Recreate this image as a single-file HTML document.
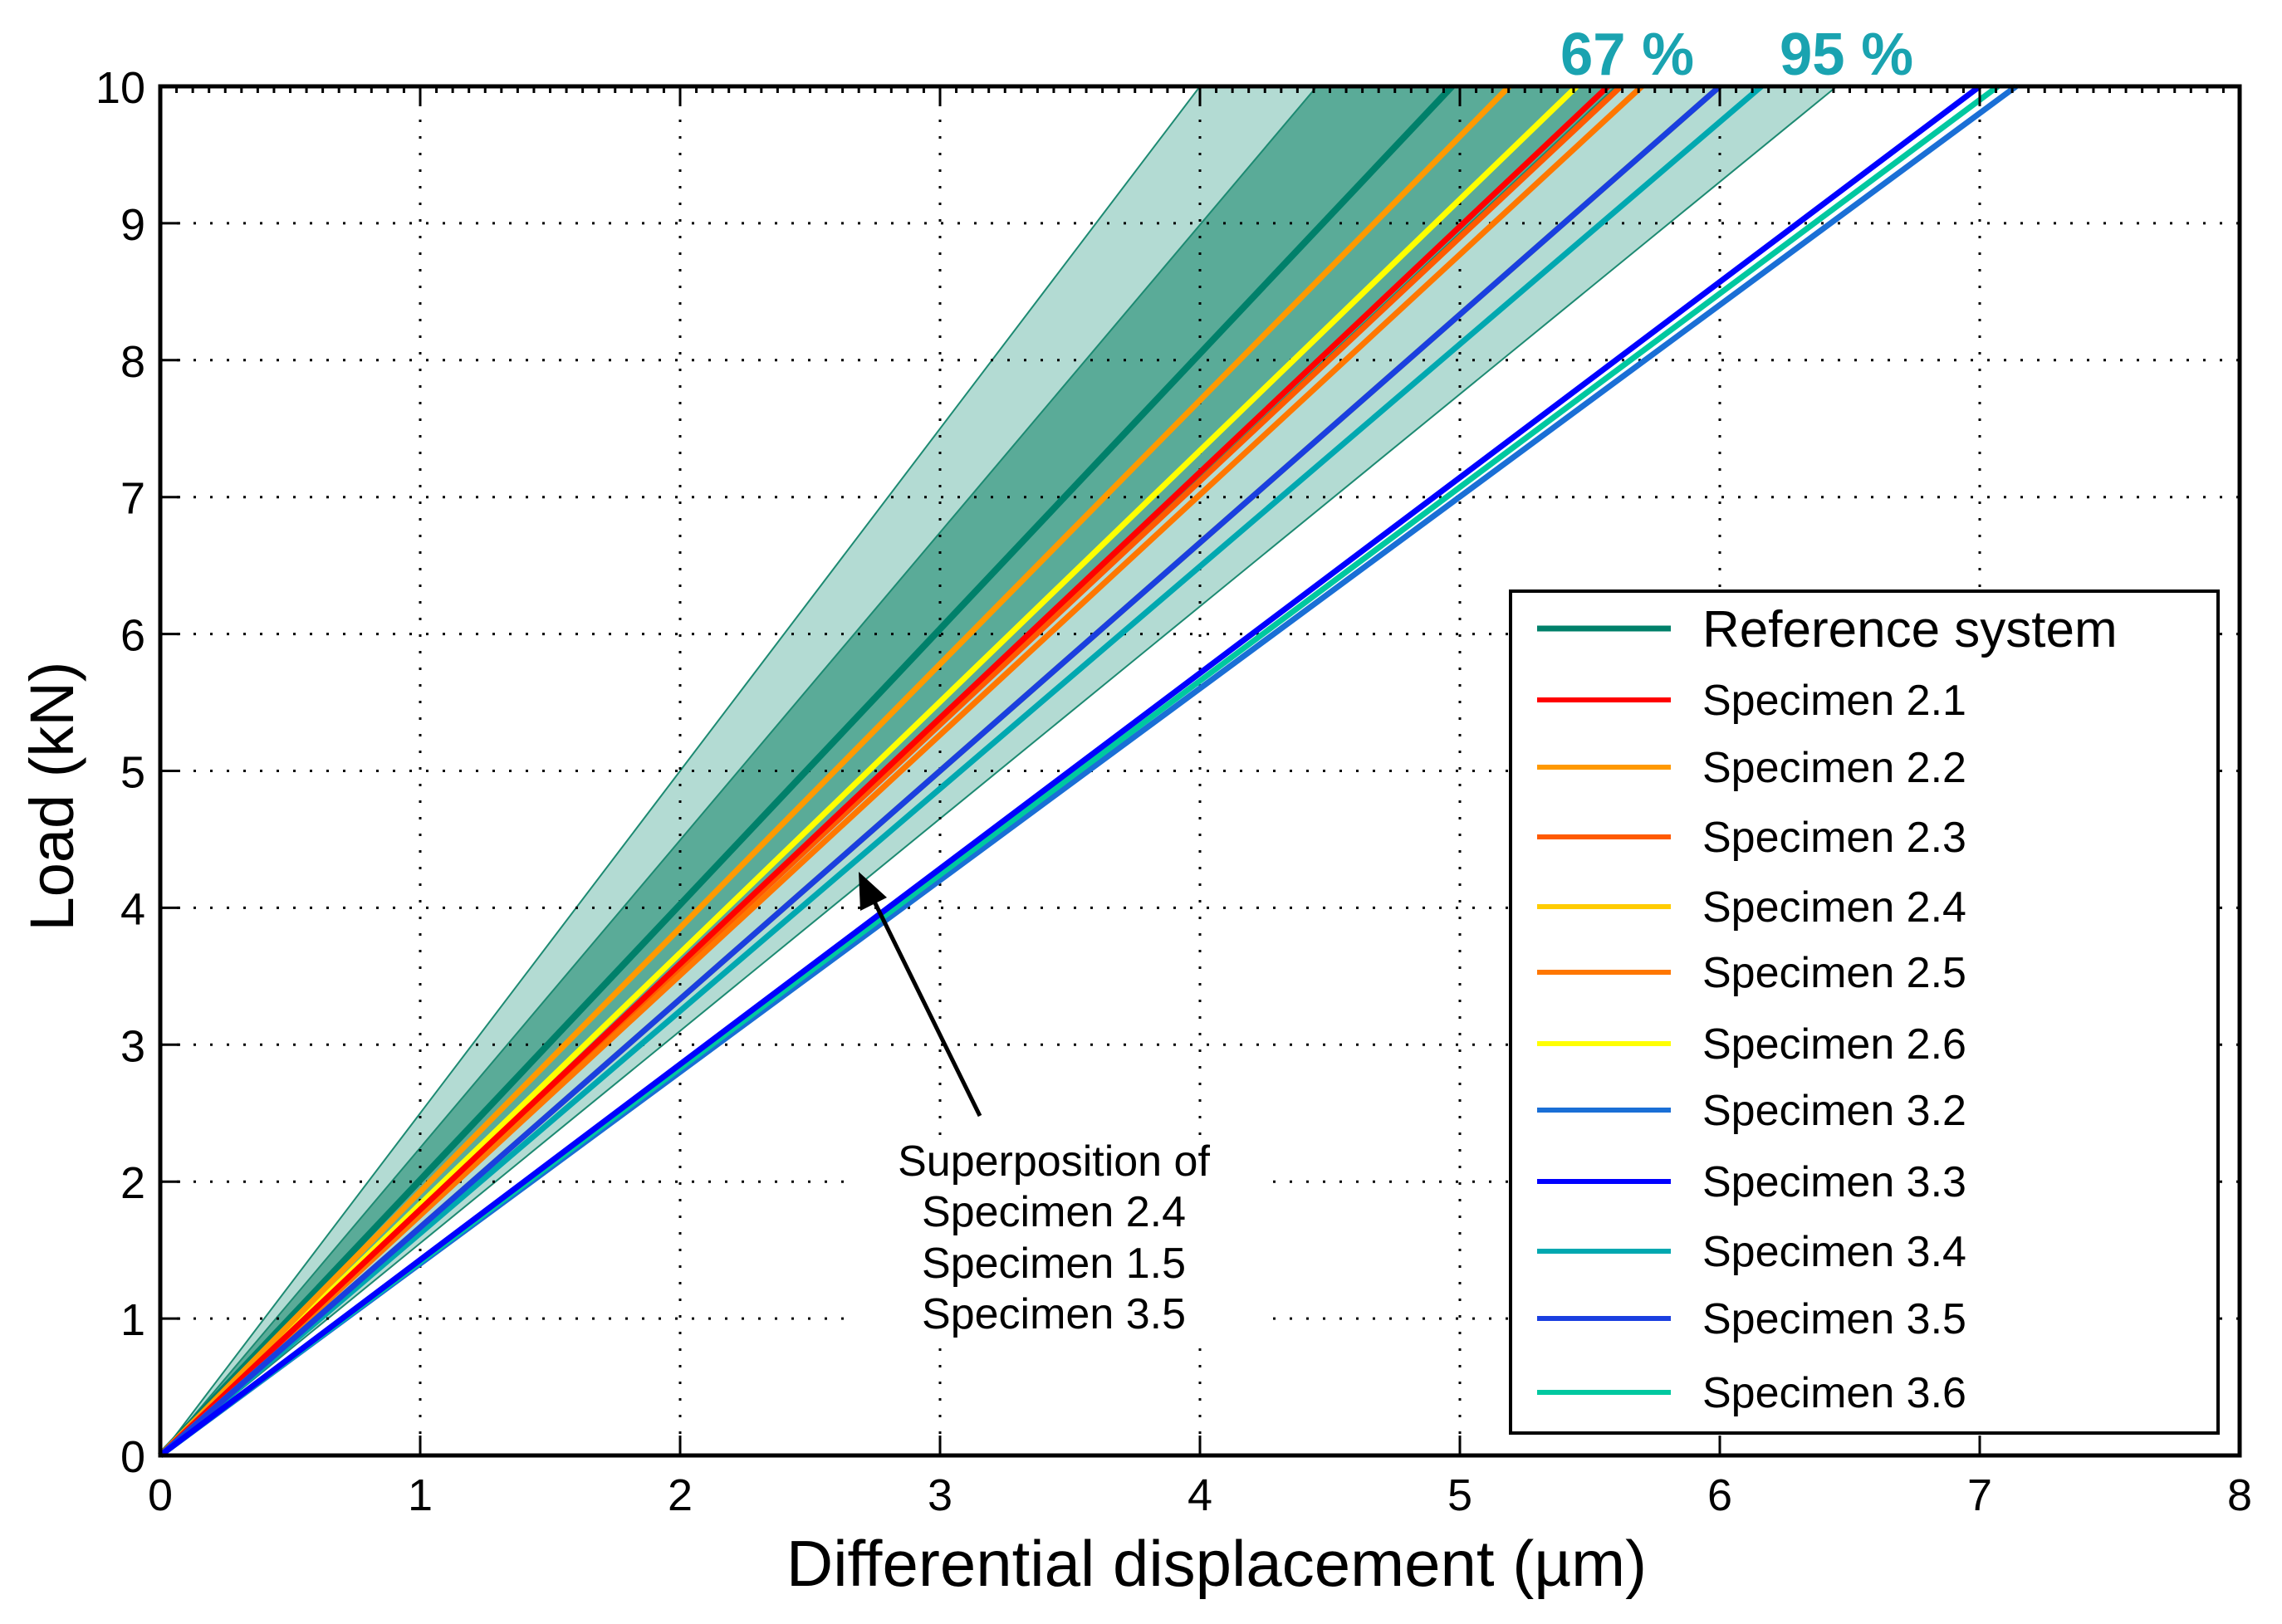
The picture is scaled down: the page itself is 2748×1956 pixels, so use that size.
<!DOCTYPE html>
<html><head><meta charset="utf-8"><style>
html,body{margin:0;padding:0;background:#fff;width:2748px;height:1956px;overflow:hidden}
svg text{font-family:"Liberation Sans",Arial,sans-serif}
</style></head><body>
<svg id="chart" width="2748" height="1956" viewBox="0 0 2748 1956" xmlns="http://www.w3.org/2000/svg">
<g id="bands"></g>
<g id="grid"></g>
<g id="series"></g>
<g id="axes"></g>
<g id="annot">
<rect x="1017" y="1367" width="508" height="245" fill="#fff"/>
<line x1="1180" y1="1344" x2="1050" y2="1080" stroke="#000" stroke-width="5"/>
<polygon points="1034,1050 1036,1097 1068,1081" fill="#000"/>
<text x="1269" text-anchor="middle" font-size="52" fill="#000"><tspan x="1269" y="1416">Superposition of</tspan><tspan x="1269" y="1477">Specimen 2.4</tspan><tspan x="1269" y="1539">Specimen 1.5</tspan><tspan x="1269" y="1600">Specimen 3.5</tspan></text>
</g>
<text x="1879" y="90" font-size="72" font-weight="bold" fill="#1aa3b0" textLength="161" lengthAdjust="spacingAndGlyphs">67 %</text>
<text x="2143" y="90" font-size="72" font-weight="bold" fill="#1aa3b0" textLength="161" lengthAdjust="spacingAndGlyphs">95 %</text>
<text x="1465" y="1910" text-anchor="middle" font-size="78">Differential displacement (µm)</text>
<text transform="translate(88,959) rotate(-90)" text-anchor="middle" font-size="74">Load (kN)</text>
<g id="legend"></g>
</svg>
<script>
const xTicks=[0,1,2,3,4,5,6,7,8];
const yTicks=[0,1,2,3,4,5,6,7,8,9,10];
const seriesNames=["Reference system","Specimen 2.1","Specimen 2.2","Specimen 2.3","Specimen 2.4","Specimen 2.5","Specimen 2.6","Specimen 3.2","Specimen 3.3","Specimen 3.4","Specimen 3.5","Specimen 3.6"];
const seriesColors=["#00806a","#ff0000","#ff9900","#ff5a00","#ffcc00","#ff7700","#ffff00","#1a6fd6","#0000ff","#00a8b0","#1a3fe0","#00c8a0"];
const seriesDispAt10kN=[4.97,5.57,5.19,5.62,6.0,5.70,5.45,7.14,7.0,6.16,6.0,7.07];
const band95=[4.0,6.45];
const band67=[4.45,5.6];
const loadMax=10;
const drawOrder=[0,6,3,5,2,1,4,9,10,7,11,8];

const X0=193,X1=2697,YT=104,YB=1753;
const sx=v=>X0+(v-0)/(8-0)*(X1-X0);
const sy=v=>YB-(v-0)/(10-0)*(YB-YT);
const NS="http://www.w3.org/2000/svg";
function mk(tag,parent,attrs){const e=document.createElementNS(NS,tag);for(const k in attrs)e.setAttribute(k,attrs[k]);parent.appendChild(e);return e;}
const bands=document.getElementById('bands');
let p=mk('polygon',bands,{points:`${sx(0)},${sy(0)} ${sx(band95[0])},${sy(loadMax)} ${sx(band95[1])},${sy(loadMax)}`,fill:"#b3dbd3",stroke:"#1d8a72","stroke-width":2});


p=mk('polygon',bands,{points:`${sx(0)},${sy(0)} ${sx(band67[0])},${sy(loadMax)} ${sx(band67[1])},${sy(loadMax)}`,fill:"#5aab98",stroke:"#1d8a72","stroke-width":2});



const grid=document.getElementById('grid');
xTicks.forEach(t=>{if(t>0&&t<8){const l=mk('line',grid,{x1:sx(t),y1:YT,x2:sx(t),y2:YB,stroke:"#000","stroke-width":3,"stroke-dasharray":"3 17"});

}});
yTicks.forEach(t=>{if(t>0&&t<10){const l=mk('line',grid,{x1:X0,y1:sy(t),x2:X1,y2:sy(t),stroke:"#000","stroke-width":3,"stroke-dasharray":"3 17"});

}});

const ser=document.getElementById('series');
drawOrder.forEach(i=>{const l=mk('line',ser,{x1:sx(0),y1:sy(0),x2:sx(seriesDispAt10kN[i]),y2:sy(loadMax),stroke:seriesColors[i],"stroke-width":i===0?8:7});

});

const ax=document.getElementById('axes');
let r=mk('rect',ax,{x:X0,y:YT,width:X1-X0,height:YB-YT,fill:"none",stroke:"#000","stroke-width":5});


for(let v=0;v<=8;v+=0.0625){const t=mk('line',ax,{x1:sx(v),y1:YT,x2:sx(v),y2:YT+8,stroke:"#000","stroke-width":3});

}
xTicks.forEach(t=>{const a=mk('line',ax,{x1:sx(t),y1:YB,x2:sx(t),y2:YB-24,stroke:"#000","stroke-width":3});


const b=mk('line',ax,{x1:sx(t),y1:YT,x2:sx(t),y2:YT+24,stroke:"#000","stroke-width":3});


const tx=mk('text',ax,{x:sx(t),y:YB+66,"text-anchor":"middle","font-size":54});tx.textContent=t;

});
yTicks.forEach(t=>{const a=mk('line',ax,{x1:X0,y1:sy(t),x2:X0+24,y2:sy(t),stroke:"#000","stroke-width":3});


const tx=mk('text',ax,{x:X0-18,y:sy(t)+20,"text-anchor":"end","font-size":54});tx.textContent=t;

});

const lg=document.getElementById('legend');
r=mk('rect',lg,{x:1819,y:712,width:852,height:1014,fill:"#fff",stroke:"#000","stroke-width":4});


const ly=[757,843,924,1008,1092,1171,1257,1337,1423,1507,1588,1677];
seriesNames.forEach((n,i)=>{const y=ly[i];
const l=mk('line',lg,{x1:1851,y1:y,x2:2012,y2:y,stroke:seriesColors[i],"stroke-width":i===0?7:6});


const t=mk('text',lg,{x:2050,y:y+(i===0?22:18),"font-size":i===0?62:52});t.textContent=n;

});
</script>
</body></html>
